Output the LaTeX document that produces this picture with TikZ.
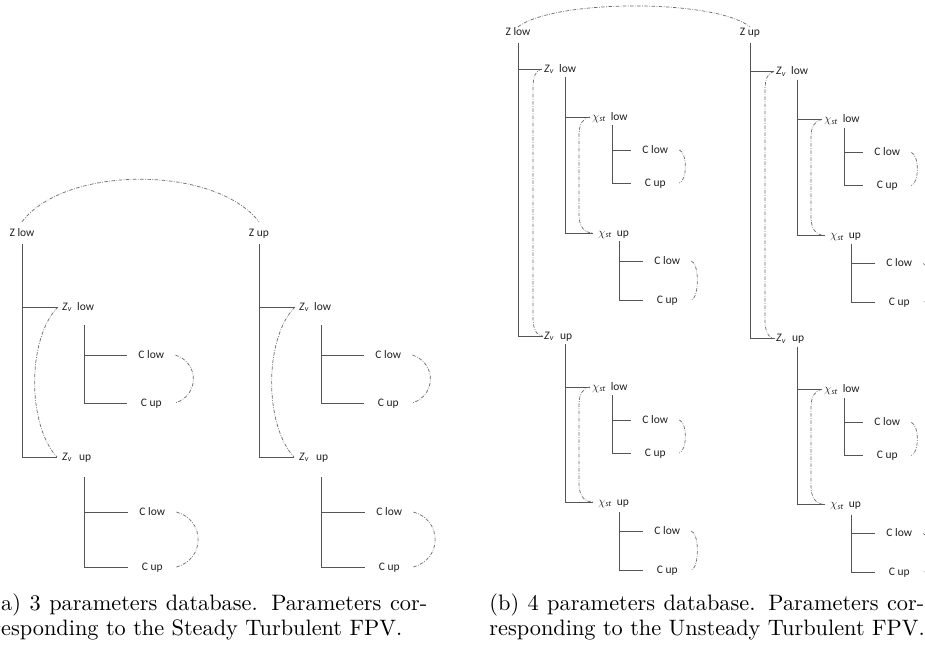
\documentclass[tikz,border=0pt]{standalone}
\usepackage{fontspec}
\usetikzlibrary{calc}
\newfontfamily\lblfont{Carlito}
\definecolor{ln}{HTML}{555555}
\definecolor{dl}{HTML}{6A6A6A}
\definecolor{txt}{HTML}{202020}
\newcommand\Zv{\textit{Z}\textsubscript{\textit{v}}}
\newcommand\Cst{$\chi$\textsubscript{\textit{st}}}
\tikzset{
  lbl/.style={font=\lblfont\fontsize{11.5}{13}\selectfont, inner sep=0pt, text=txt, text height=8pt, text depth=2pt},
  cl/.style={lbl, minimum width=48pt, anchor=west},
  br/.style={lbl, anchor=west},
  tree/.style={draw=ln, line width=0.9pt},
  dsh/.style={draw=dl, line width=0.7pt, dash pattern=on 3.5pt off 1.5pt on 0.7pt off 1.5pt},
  captext/.style={anchor=north west, inner sep=0pt, scale=2.23, align=left, font=\rmfamily\fontsize{10}{11.3}\selectfont}
}
% prefix, vx, vtop, line end x, ylow, yup, bracket dx, bracket dy
\newcommand\CGroup[8]{%
  \coordinate (#1v) at (#2,#3);
  \node[cl] (#1l) at (#4,#5) {C low};
  \node[cl] (#1u) at (#4,#6) {C up};
  \draw[tree] (#1v) |- (#1l.west);
  \draw[tree] (#1v) |- (#1u.west);
  \draw[dsh] (#1l.east) .. controls +(#7,#8) and +(#7,-#8) .. (#1u.east);
}
\newcommand\SibB[4]{%
  \draw[dsh] (#1.west) .. controls +(-0.7*#3,1) and +(0,-10) .. ($(#1.west)+(-#3,18)$)
     -- ($(#2.west)+(-#4,-18)$) .. controls +(0,10) and +(-0.7*#4,0) .. (#2.west);
}
\newcommand\ATree[2]{%
  \node[br, inner xsep=4pt] (#2zl) at (58,307) {\Zv\hspace{5pt}low};
  \node[br, inner xsep=5pt] (#2zu) at (57,457) {\Zv\hspace{7pt}up};
  \draw[tree] (#1.south) |- (#2zl.west);
  \draw[tree] (#1.south) |- (#2zu.west);
  \draw[dsh] (#2zl.west) .. controls +(-31,31) and +(-30,-32) .. (#2zu.west);
  \CGroup{#2ga}{84}{325}{127}{355}{403}{24}{8}
  \CGroup{#2gb}{84}{477}{128}{512}{567}{29}{8}
}
\newcommand\BTree[2]{%
  \node[br, inner xsep=2pt] (#2zl) at (542,69) {\Zv\hspace{5pt}low};
  \node[br, inner xsep=1pt] (#2zu) at (543,336) {\Zv\hspace{6pt}up};
  \draw[tree, shorten <=6pt] (#1.south) |- (#2zl.west);
  \draw[tree, shorten <=6pt] (#1.south) |- (#2zu.west);
  \SibB{#2zl}{#2zu}{9}{10}
  \coordinate (#2va) at (565,77);
  \node[br, inner xsep=2pt] (#2cla) at (590,117) {\Cst\hspace{5pt}low};
  \node[br, inner xsep=5pt] (#2cua) at (593,233) {\Cst\hspace{5pt}up};
  \draw[tree] (#2va) |- (#2cla.west);
  \draw[tree] (#2va) |- (#2cua.west);
  \SibB{#2cla}{#2cua}{11}{14}
  \CGroup{#2ga}{612}{125}{631}{150}{183}{8}{3}
  \CGroup{#2gb}{619}{241}{643}{261}{300}{8}{3}
  \coordinate (#2vb) at (565,344);
  \node[br, inner xsep=2pt] (#2clb) at (590,387) {\Cst\hspace{5pt}low};
  \node[br, inner xsep=5pt] (#2cub) at (593,502) {\Cst\hspace{5pt}up};
  \draw[tree] (#2vb) |- (#2clb.west);
  \draw[tree] (#2vb) |- (#2cub.west);
  \SibB{#2clb}{#2cub}{11}{14}
  \CGroup{#2gc}{612}{395}{631}{420}{453}{8}{3}
  \CGroup{#2gd}{619}{512}{643}{531}{570}{8}{3}
}
\begin{document}
\begin{tikzpicture}[x=1pt, y=-1pt]
\useasboundingbox (0,0) rectangle (925,648);
\clip (0,0) rectangle (925,648);
\fill[white] (0,0) rectangle (925,648);
% ---- (a)
\node[lbl, inner ysep=6pt] (zlowA) at (22,233) {Z low};
\node[lbl, inner ysep=6pt] (zupA) at (259,233) {Z up};
\draw[dsh] (zlowA.north) .. controls (65,165) and (215,165) .. (zupA.north);
\ATree{zlowA}{AL}
\begin{scope}[shift={(237,0)}]
\ATree{zupA}{AR}
\end{scope}
% ---- (b)
\node[lbl] (zlowB) at (518,32) {Z low};
\node[lbl] (zupB) at (750,32) {Z up};
\draw[dsh] (zlowB.north) .. controls (555,-1) and (715,-1) .. (zupB.north);
\BTree{zlowB}{BL}
\begin{scope}[shift={(232,2.5)}]
\BTree{zupB}{BR}
\end{scope}
% ---- captions
\node[captext] (capA) at (-8,593) {\hbox to 195pt{(a) 3 parameters database. Parameters cor-}\\responding to the Steady Turbulent FPV.};
\node[captext] (capB) at (489,593) {\hbox to 195pt{(b) 4 parameters database. Parameters cor-}\\responding to the Unsteady Turbulent FPV.};
\end{tikzpicture}
\end{document}
